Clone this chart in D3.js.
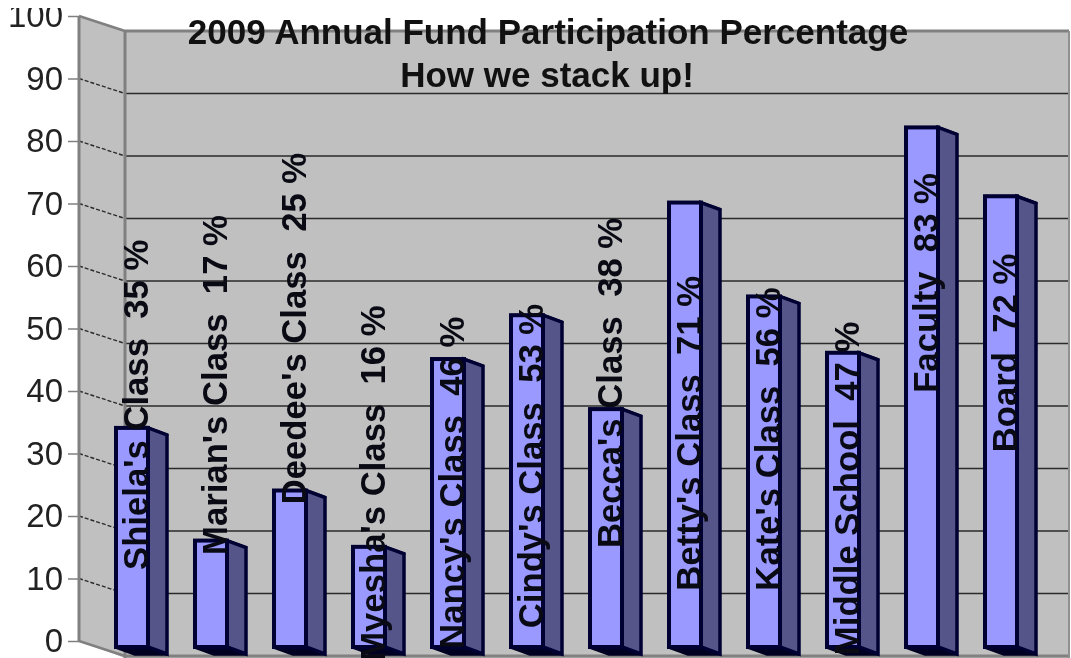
<!DOCTYPE html>
<html>
<head>
<meta charset="utf-8">
<script src="https://cdn.jsdelivr.net/npm/d3@7"></script>
<style>
  html, body { margin: 0; padding: 0; background: #fff; overflow: hidden; }
  text { font-family: "Liberation Sans", Arial, sans-serif; }
  svg { display: block; filter: blur(0.45px); }
</style>
</head>
<body>
<div id="chart"></div>
<script>
const classes = ["Shiela's Class", "Marian's Class", "Deedee's Class", "Myesha's Class", "Nancy's Class", "Cindy's Class",
  "Becca's Class", "Betty's Class", "Kate's Class", "Middle School", "Faculty", "Board"]
const percents = [35, 17, 25, 16, 46, 53, 38, 71, 56, 47, 83, 72]
// where each rotated label starts, read in axis units
const labelStarts = [12.3, 14.7, 22.8, -2.2, -0.3, 3, 15.8, 9, 9, -1.3, 40.6, 31.1]
const ticks = [0, 10, 20, 30, 40, 50, 60, 70, 80, 90, 100]

const width = 1071
const height = 658
const depth = { x: 46, y: 15 }
const barDepth = { x: 19, y: 7 }
const barWidth = 32

const svg = d3.select("#chart").append("svg")
  .attr("width", width)
  .attr("height", height)

// axis scale sits on the front edge of the left wall
const yFront = d3.scaleLinear().domain([0, 100]).range([641, 16])
const yBack = v => yFront(v) + depth.y
const yBar = d3.scaleLinear().domain([0, 100]).range([647, 21])
const x = d3.scaleBand().domain(classes).range([116, 116 + 79 * 12])

const wallLeft = 79
const wallBack = wallLeft + depth.x
const wallRight = 1069

// walls
svg.append("polygon")
  .attr("points", [[wallLeft, yFront(100)], [wallBack, yBack(100)], [wallBack, height], [wallLeft, yFront(0)]].join(" "))
  .attr("fill", "#c0c0c0")
svg.append("rect")
  .attr("x", wallBack).attr("y", yBack(100))
  .attr("width", wallRight - wallBack).attr("height", height - yBack(100))
  .attr("fill", "#c0c0c0")

// gridlines
ticks.forEach(t => {
  svg.append("line")
    .attr("x1", wallBack).attr("x2", wallRight)
    .attr("y1", yBack(t)).attr("y2", yBack(t))
    .attr("stroke", t === 100 || t === 0 ? "#808080" : "#2a2a2a")
    .attr("stroke-width", t === 100 || t === 0 ? 3 : 1.6)
  svg.append("line")
    .attr("x1", wallLeft).attr("x2", wallBack)
    .attr("y1", yFront(t)).attr("y2", yBack(t))
    .attr("stroke", t === 100 || t === 0 ? "#808080" : "#2a2a2a")
    .attr("stroke-width", t === 100 || t === 0 ? 2.5 : 1.4)
    .attr("stroke-dasharray", t === 100 || t === 0 ? null : "4,2")
})

// wall edges
svg.append("line").attr("x1", wallLeft).attr("x2", wallLeft)
  .attr("y1", yFront(100)).attr("y2", yFront(0))
  .attr("stroke", "#808080").attr("stroke-width", 3)
svg.append("line").attr("x1", wallBack).attr("x2", wallBack)
  .attr("y1", yBack(100)).attr("y2", height)
  .attr("stroke", "#808080").attr("stroke-width", 3)
svg.append("line").attr("x1", wallRight).attr("x2", wallRight)
  .attr("y1", yBack(100)).attr("y2", height)
  .attr("stroke", "#909090").attr("stroke-width", 2)

// axis
const axis = d3.axisLeft(yFront).tickValues(ticks).tickSize(11).tickPadding(5)
const axisG = svg.append("g")
  .attr("transform", `translate(${wallLeft},0)`)
  .call(axis)
axisG.select(".domain").remove()
axisG.selectAll("line").attr("stroke", "#808080").attr("stroke-width", 1.5)
axisG.selectAll("text")
  .attr("font-size", 33)
  .attr("fill", "#222")
  .style("font-family", '"Liberation Sans", Arial, sans-serif')

// the reference is cut off across the top of the 100 label
svg.append("rect").attr("x", 0).attr("y", 0).attr("width", wallLeft).attr("height", 8).attr("fill", "#fff")

// bars
const bars = svg.append("g")
classes.forEach((c, i) => {
  const left = x(c)
  const right = left + barWidth
  const top = yBar(percents[i])
  const bottom = yBar(0)
  const dx = barDepth.x
  const dy = barDepth.y

  bars.append("polygon")
    .attr("points", [[left, bottom], [right, bottom], [right + dx, bottom + dy], [left + dx, bottom + dy]].join(" "))
    .attr("fill", "#000022").attr("stroke", "#000022").attr("stroke-width", 3.5)
  bars.append("polygon")
    .attr("points", [[left, top], [right, top], [right + dx, top + dy], [left + dx, top + dy]].join(" "))
    .attr("fill", "#8080c0").attr("stroke", "#000033").attr("stroke-width", 3)
    .attr("stroke-linejoin", "round")
  bars.append("polygon")
    .attr("points", [[right, top], [right + dx, top + dy], [right + dx, bottom + dy], [right, bottom]].join(" "))
    .attr("fill", "#55558a").attr("stroke", "#000033").attr("stroke-width", 3.5)
  bars.append("rect")
    .attr("x", left).attr("y", top)
    .attr("width", barWidth).attr("height", bottom - top)
    .attr("fill", "#9999ff").attr("stroke", "#000033").attr("stroke-width", 4)
})

// rotated labels sit over the bars
classes.forEach((c, i) => {
  const lx = x(c) + barWidth - 0.5
  const ly = yBar(labelStarts[i])
  svg.append("text")
    .attr("transform", `translate(${lx},${ly}) rotate(-90)`)
    .attr("font-size", 34.7)
    .attr("font-weight", 700)
    .attr("fill", "#0a0a14")
    .style("white-space", "pre")
    .text(`${c}  ${percents[i]} %`)
})

// titles
svg.append("text")
  .attr("x", 548).attr("y", 44)
  .attr("text-anchor", "middle")
  .attr("font-size", 35)
  .attr("font-weight", 700)
  .attr("fill", "#111")
  .text("2009 Annual Fund Participation Percentage")
svg.append("text")
  .attr("x", 547).attr("y", 87)
  .attr("text-anchor", "middle")
  .attr("font-size", 35)
  .attr("font-weight", 700)
  .attr("fill", "#111")
  .text("How we stack up!")
</script>
</body>
</html>
